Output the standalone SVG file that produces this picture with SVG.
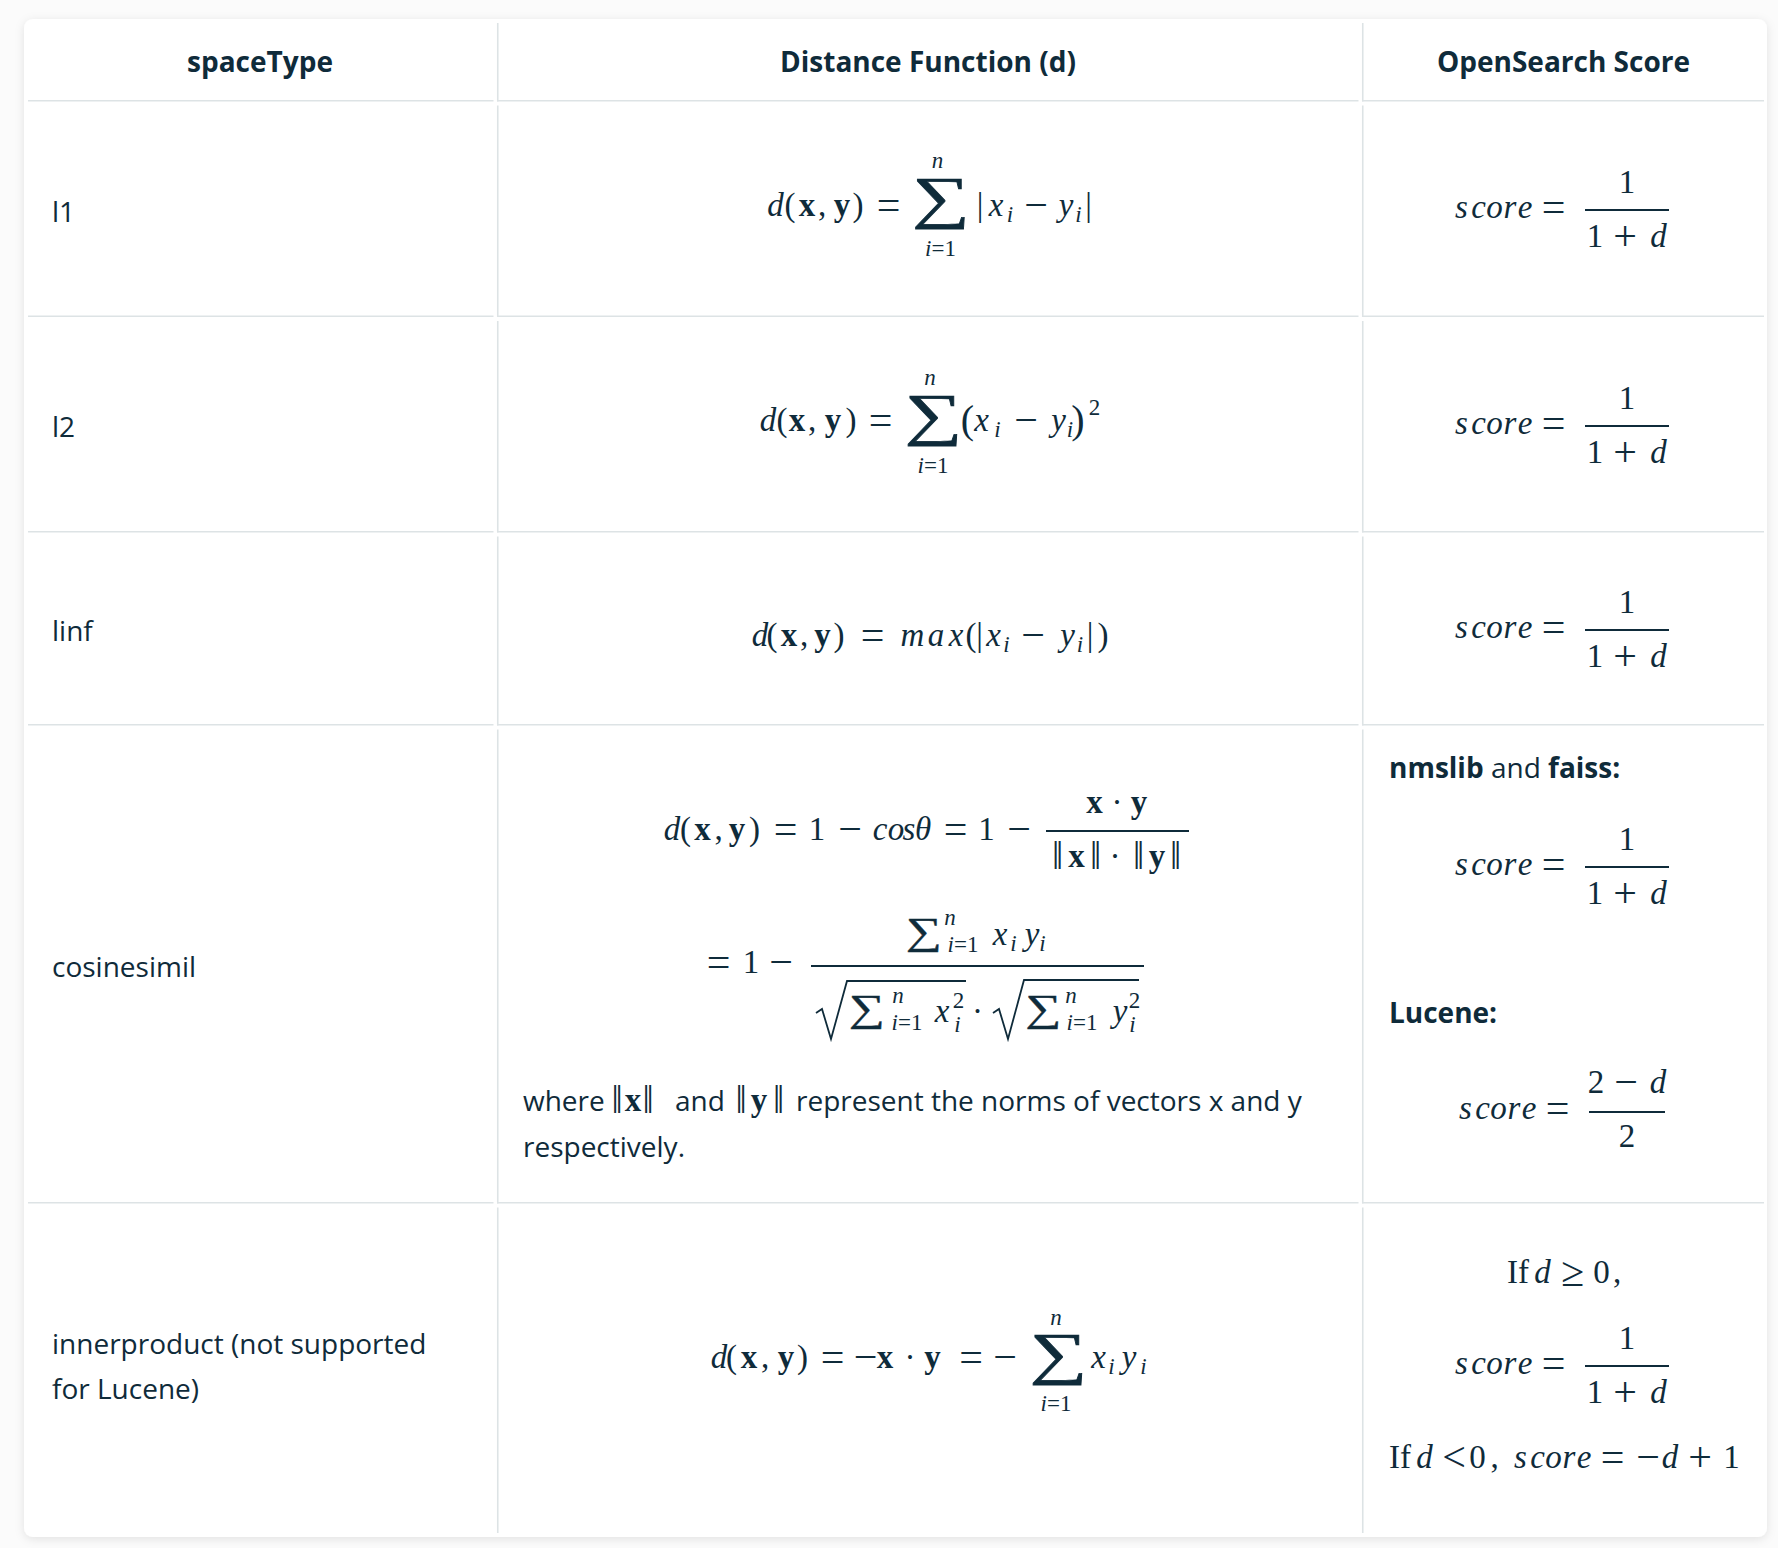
<svg xmlns="http://www.w3.org/2000/svg" xmlns:xlink="http://www.w3.org/1999/xlink" width="1778" height="1548" viewBox="0 0 1778 1548">
<style>
.t{font-family:"Open Sans","Liberation Sans",sans-serif;font-size:28px;fill:#0f2b3a}
.b{font-weight:700}
.c{text-anchor:middle}
.m{font-family:"Liberation Serif","DejaVu Serif",serif;font-size:33px;fill:#0f2b3a;text-anchor:middle}
.op{font-size:42px}
.nb{font-size:40px}
.i{font-style:italic}
.mb{font-weight:700}
.s{font-size:23px}
.big{font-size:58px;stroke:#0f2b3a;stroke-width:0.7}
.med{font-size:38px;stroke:#0f2b3a;stroke-width:0.4}
.par{font-size:40px}
.grid{stroke:#dde3e5;stroke-width:1.6;fill:none}
.bar{stroke:#0f2b3a;stroke-width:1.8}
.rad{stroke:#0f2b3a;stroke-width:1.8;fill:none;stroke-linejoin:miter}
</style>
<defs>
<filter id="sh" x="-5%" y="-5%" width="110%" height="110%">
<feDropShadow dx="0" dy="2" stdDeviation="5" flood-color="#000" flood-opacity="0.10"/>
</filter>
<g id="scoreFrac">
<text class="m i" x="1461.5" y="8">s</text>
<text class="m i" x="1478.5" y="8">c</text>
<text class="m i" x="1494.5" y="8">o</text>
<text class="m i" x="1510" y="8">r</text>
<text class="m i" x="1525" y="8">e</text>
<text class="m op" x="1553.5" y="10.5">=</text>
<line class="bar" x1="1585" y1="0" x2="1669" y2="0"/>
<text class="m" x="1627" y="-17">1</text>
<text class="m" x="1595" y="37">1</text>
<text class="m op" x="1625" y="39.5">+</text>
<text class="m i" x="1658.5" y="37">d</text>
</g>
</defs>
<rect x="0" y="0" width="1778" height="1548" fill="#fbfbfb"/>
<rect id="card" x="24" y="19" width="1743" height="1518" rx="9" fill="#ffffff" filter="url(#sh)"/>

<g id="table-lines" class="grid">
<line x1="497.75" y1="23" x2="497.75" y2="101.5"/>
<line x1="497.75" y1="105.5" x2="497.75" y2="317"/>
<line x1="497.75" y1="321" x2="497.75" y2="532.5"/>
<line x1="497.75" y1="536.5" x2="497.75" y2="725.5"/>
<line x1="497.75" y1="729.5" x2="497.75" y2="1203.5"/>
<line x1="497.75" y1="1207.5" x2="497.75" y2="1533"/>
<line x1="1362.75" y1="23" x2="1362.75" y2="101.5"/>
<line x1="1362.75" y1="105.5" x2="1362.75" y2="317"/>
<line x1="1362.75" y1="321" x2="1362.75" y2="532.5"/>
<line x1="1362.75" y1="536.5" x2="1362.75" y2="725.5"/>
<line x1="1362.75" y1="729.5" x2="1362.75" y2="1203.5"/>
<line x1="1362.75" y1="1207.5" x2="1362.75" y2="1533"/>
<line x1="28" y1="100.75" x2="493.5" y2="100.75"/>
<line x1="497" y1="100.75" x2="1358.5" y2="100.75"/>
<line x1="1362" y1="100.75" x2="1764" y2="100.75"/>
<line x1="28" y1="316.25" x2="493.5" y2="316.25"/>
<line x1="497" y1="316.25" x2="1358.5" y2="316.25"/>
<line x1="1362" y1="316.25" x2="1764" y2="316.25"/>
<line x1="28" y1="531.75" x2="493.5" y2="531.75"/>
<line x1="497" y1="531.75" x2="1358.5" y2="531.75"/>
<line x1="1362" y1="531.75" x2="1764" y2="531.75"/>
<line x1="28" y1="724.75" x2="493.5" y2="724.75"/>
<line x1="497" y1="724.75" x2="1358.5" y2="724.75"/>
<line x1="1362" y1="724.75" x2="1764" y2="724.75"/>
<line x1="28" y1="1202.75" x2="493.5" y2="1202.75"/>
<line x1="497" y1="1202.75" x2="1358.5" y2="1202.75"/>
<line x1="1362" y1="1202.75" x2="1764" y2="1202.75"/>
</g>

<g id="header">
<text class="t b c" x="260" y="72">spaceType</text>
<text class="t b c" x="928" y="72">Distance Function (d)</text>
<text class="t b c" x="1563.5" y="72">OpenSearch Score</text>
</g>

<g id="row-l1">
<text class="t" x="52" y="222">l1</text>
<g id="l1-formula">
<text class="m i" x="775.5" y="216">d</text>
<text class="m" x="790" y="216">(</text>
<text class="m mb" x="807" y="216">x</text>
<text class="m" x="822" y="216">,</text>
<text class="m mb" x="842" y="216">y</text>
<text class="m" x="858" y="216">)</text>
<text class="m op" x="888.5" y="218.5">=</text>
<text class="m big" transform="translate(941,217) scale(1.4,1)">∑</text>
<text class="m i s" x="937.5" y="168">n</text>
<text class="m s" x="940.5" y="256"><tspan class="i">i</tspan>=1</text>
<text class="m" x="980" y="216">|</text>
<text class="m i" x="996" y="216">x</text>
<text class="m i s" x="1010" y="222">i</text>
<text class="m op" x="1036" y="218.5">−</text>
<text class="m i" x="1066" y="216">y</text>
<text class="m i s" x="1078.5" y="222">i</text>
<text class="m" x="1088.5" y="216">|</text>
</g>
<use id="l1-score" href="#scoreFrac" xlink:href="#scoreFrac" y="210"/>
</g>

<g id="row-l2">
<text class="t" x="52" y="437">l2</text>
<g id="l2-formula">
<text class="m i" x="768" y="431">d</text>
<text class="m" x="782" y="431">(</text>
<text class="m mb" x="797" y="431">x</text>
<text class="m" x="812" y="431">,</text>
<text class="m mb" x="833" y="431">y</text>
<text class="m" x="851" y="431">)</text>
<text class="m op" x="880.5" y="433.5">=</text>
<text class="m big" transform="translate(933.5,434) scale(1.4,1)">∑</text>
<text class="m i s" x="930" y="385">n</text>
<text class="m s" x="933" y="473"><tspan class="i">i</tspan>=1</text>
<text class="m par" x="967.5" y="433">(</text>
<text class="m i" x="981.5" y="431">x</text>
<text class="m i s" x="997.5" y="437">i</text>
<text class="m op" x="1026" y="433.5">−</text>
<text class="m i" x="1058.5" y="431">y</text>
<text class="m i s" x="1070" y="437">i</text>
<text class="m par" x="1078" y="433">)</text>
<text class="m s" x="1094.5" y="415">2</text>
</g>
<use id="l2-score" href="#scoreFrac" xlink:href="#scoreFrac" y="426"/>
</g>

<g id="row-linf">
<text class="t" x="52" y="641">linf</text>
<g id="linf-formula">
<text class="m i" x="760" y="646">d</text>
<text class="m" x="772" y="646">(</text>
<text class="m mb" x="789" y="646">x</text>
<text class="m" x="804" y="646">,</text>
<text class="m mb" x="822.5" y="646">y</text>
<text class="m" x="839" y="646">)</text>
<text class="m op" x="872.5" y="648.5">=</text>
<text class="m i" x="912.5" y="646">m</text>
<text class="m i" x="936" y="646">a</text>
<text class="m i" x="956" y="646">x</text>
<text class="m" x="971" y="646">(</text>
<text class="m" x="979.5" y="646">|</text>
<text class="m i" x="993.5" y="646">x</text>
<text class="m i s" x="1006.5" y="652">i</text>
<text class="m op" x="1033" y="648.5">−</text>
<text class="m i" x="1067.5" y="646">y</text>
<text class="m i s" x="1080" y="652">i</text>
<text class="m" x="1090" y="646">|</text>
<text class="m" x="1103" y="646">)</text>
</g>
<use id="linf-score" href="#scoreFrac" xlink:href="#scoreFrac" y="630"/>
</g>

<g id="row-cosinesimil">
<text class="t" x="52" y="977">cosinesimil</text>
<g id="cos-formula-line1">
<text class="m i" x="672" y="840">d</text>
<text class="m" x="685.5" y="840">(</text>
<text class="m mb" x="702.5" y="840">x</text>
<text class="m" x="718.5" y="840">,</text>
<text class="m mb" x="737" y="840">y</text>
<text class="m" x="754.5" y="840">)</text>
<text class="m op" x="785.5" y="842.5">=</text>
<text class="m" x="817" y="840">1</text>
<text class="m op" x="850" y="842.5">−</text>
<text class="m i" x="880" y="840">c</text>
<text class="m i" x="896" y="840">o</text>
<text class="m i" x="909" y="840">s</text>
<text class="m i" x="923" y="840">θ</text>
<text class="m op" x="955.5" y="842.5">=</text>
<text class="m" x="986.5" y="840">1</text>
<text class="m op" x="1019" y="842.5">−</text>
<text class="m mb" x="1094.5" y="813">x</text>
<text class="m" x="1117" y="813">·</text>
<text class="m mb" x="1139" y="813">y</text>
<line class="bar" x1="1046" y1="831" x2="1189" y2="831"/>
<text class="m nb" x="1057.5" y="869">‖</text>
<text class="m mb" x="1076.5" y="867">x</text>
<text class="m nb" x="1095.5" y="869">‖</text>
<text class="m" x="1115" y="867">·</text>
<text class="m nb" x="1138.5" y="869">‖</text>
<text class="m mb" x="1157" y="867">y</text>
<text class="m nb" x="1175.5" y="869">‖</text>
</g>
<g id="cos-formula-line2">
<text class="m op" x="718.5" y="975.5">=</text>
<text class="m" x="751" y="973">1</text>
<text class="m op" x="781" y="975.5">−</text>
<line class="bar" x1="811" y1="966" x2="1144" y2="966"/>
<text class="m med" transform="translate(924,944) scale(1.33,1)">∑</text>
<text class="m i s" x="950" y="925">n</text>
<text class="m s" x="963" y="952"><tspan class="i">i</tspan>=1</text>
<text class="m i" x="1000" y="945">x</text>
<text class="m i s" x="1013.5" y="951">i</text>
<text class="m i" x="1032" y="945">y</text>
<text class="m i s" x="1042.5" y="951">i</text>
<path class="rad" d="M816,1013 L822,1009 L831,1039 L847,981 L966,981"/>
<text class="m med" transform="translate(867,1021) scale(1.33,1)">∑</text>
<text class="m i s" x="898" y="1003">n</text>
<text class="m s" x="907" y="1030"><tspan class="i">i</tspan>=1</text>
<text class="m i" x="942" y="1022">x</text>
<text class="m s" x="958.5" y="1008">2</text>
<text class="m i s" x="957.5" y="1032">i</text>
<text class="m" x="977.5" y="1022">·</text>
<path class="rad" d="M993,1013 L999,1009 L1008,1039 L1024,980 L1139,980"/>
<text class="m med" transform="translate(1043.5,1021) scale(1.33,1)">∑</text>
<text class="m i s" x="1071" y="1003">n</text>
<text class="m s" x="1082" y="1030"><tspan class="i">i</tspan>=1</text>
<text class="m i" x="1120" y="1022">y</text>
<text class="m s" x="1134.5" y="1008">2</text>
<text class="m i s" x="1132.5" y="1032">i</text>
</g>
<g id="cos-note">
<text class="t" x="523" y="1111">where</text>
<text class="m nb" x="617" y="1113">‖</text>
<text class="m mb" x="633" y="1111">x</text>
<text class="m nb" x="648" y="1113">‖</text>
<text class="t" x="675" y="1111">and</text>
<text class="m nb" x="741" y="1113">‖</text>
<text class="m mb" x="759" y="1111">y</text>
<text class="m nb" x="778.5" y="1113">‖</text>
<text class="t" x="796" y="1111">represent the norms of vectors x and y</text>
<text class="t" x="523" y="1157">respectively.</text>
</g>
<g id="cos-score">
<text class="t" x="1389" y="778"><tspan class="b">nmslib</tspan> and <tspan class="b">faiss:</tspan></text>
<use href="#scoreFrac" xlink:href="#scoreFrac" y="867"/>
<text class="t b" x="1389" y="1023">Lucene:</text>
<g transform="translate(4,0)">
<text class="m i" x="1461.5" y="1119">s</text>
<text class="m i" x="1478.5" y="1119">c</text>
<text class="m i" x="1494.5" y="1119">o</text>
<text class="m i" x="1510" y="1119">r</text>
<text class="m i" x="1525" y="1119">e</text>
<text class="m op" x="1553.5" y="1121.5">=</text>
</g>
<line class="bar" x1="1589" y1="1112" x2="1665" y2="1112"/>
<text class="m" x="1596" y="1093">2</text>
<text class="m op" x="1626" y="1095.5">−</text>
<text class="m i" x="1658" y="1093">d</text>
<text class="m" x="1627" y="1147">2</text>
</g>
</g>

<g id="row-innerproduct">
<text class="t" x="52" y="1354">innerproduct (not supported</text>
<text class="t" x="52" y="1399">for Lucene)</text>
<g id="ip-formula">
<text class="m i" x="719" y="1368">d</text>
<text class="m" x="731.5" y="1368">(</text>
<text class="m mb" x="749" y="1368">x</text>
<text class="m" x="765" y="1368">,</text>
<text class="m mb" x="786" y="1368">y</text>
<text class="m" x="802.5" y="1368">)</text>
<text class="m op" x="832.5" y="1370.5">=</text>
<text class="m op" x="865.5" y="1370.5">−</text>
<text class="m mb" x="885" y="1368">x</text>
<text class="m" x="910" y="1368">·</text>
<text class="m mb" x="932.5" y="1368">y</text>
<text class="m op" x="971" y="1370.5">=</text>
<text class="m op" x="1005" y="1370.5">−</text>
<text class="m big" transform="translate(1058.5,1372.5) scale(1.4,1)">∑</text>
<text class="m i s" x="1056" y="1325">n</text>
<text class="m s" x="1056" y="1411"><tspan class="i">i</tspan>=1</text>
<text class="m i" x="1098.5" y="1368">x</text>
<text class="m i s" x="1111.5" y="1374">i</text>
<text class="m i" x="1129" y="1368">y</text>
<text class="m i s" x="1143.5" y="1374">i</text>
</g>
<g id="ip-score">
<text class="m" x="1518" y="1283">If</text>
<text class="m i" x="1542.5" y="1283">d</text>
<text class="m op" x="1572.5" y="1285.5">≥</text>
<text class="m" x="1601.5" y="1283">0</text>
<text class="m" x="1617" y="1283">,</text>
<use href="#scoreFrac" xlink:href="#scoreFrac" y="1366"/>
<text class="m" x="1400" y="1468">If</text>
<text class="m i" x="1424.5" y="1468">d</text>
<text class="m op" x="1454" y="1470.5">&lt;</text>
<text class="m" x="1477.5" y="1468">0</text>
<text class="m" x="1494.5" y="1468">,</text>
<g transform="translate(59,1460)">
<text class="m i" x="1461.5" y="8">s</text>
<text class="m i" x="1478.5" y="8">c</text>
<text class="m i" x="1494.5" y="8">o</text>
<text class="m i" x="1510" y="8">r</text>
<text class="m i" x="1525" y="8">e</text>
</g>
<text class="m op" x="1612.5" y="1470.5">=</text>
<text class="m op" x="1648" y="1470.5">−</text>
<text class="m i" x="1670" y="1468">d</text>
<text class="m op" x="1700" y="1470.5">+</text>
<text class="m" x="1731.5" y="1468">1</text>
</g>
</g>
</svg>
